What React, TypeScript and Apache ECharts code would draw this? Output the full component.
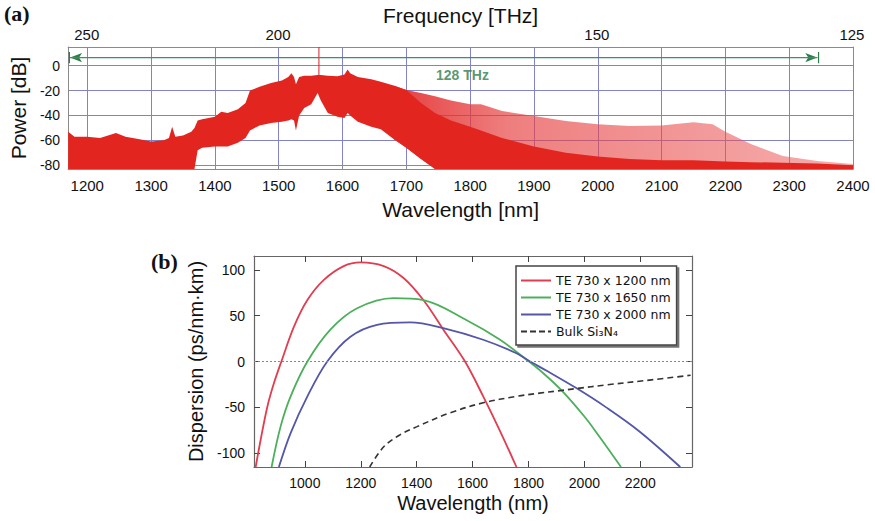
import React, { useEffect, useRef } from "react";
import * as echarts from "echarts";

// ---------- physical constant for the top (frequency) axis ----------
const C_NM_THZ = 299792.458;

// ---------- Panel (a): supercontinuum / comb spectrum ----------
const wavelengthsA = [
  1170, 1180, 1200, 1220, 1245, 1260, 1280, 1300, 1320, 1328,
  1333, 1338, 1350, 1363, 1368, 1373, 1380, 1400, 1410, 1420,
  1436, 1448, 1455, 1470, 1488, 1505, 1515, 1520, 1524, 1527,
  1532, 1540, 1551, 1561, 1566, 1577, 1592, 1603, 1608, 1612,
  1624, 1645, 1660, 1680, 1700, 1723, 1745, 1770, 1800, 1817,
  1850, 1900, 1950, 2000, 2050, 2100, 2150, 2180, 2200, 2240,
  2290, 2344, 2400,
];
// upper envelope of the comb lines (dB)
const upperEnvelope = [
  -53, -57, -57, -58, -54, -57, -59, -61, -60, -58,
  -49, -57, -56, -53, -50, -44, -43, -41, -37, -38,
  -35, -30, -20, -17, -14, -12, -9, -6, -9, -15,
  -9, -8, -8, -7.5, -7.5, -8, -8.5, -7, -3, -6,
  -9, -11, -13, -16, -19.5, -22, -24.5, -28, -31, -31,
  -36.5, -40.5, -44.5, -47, -48.5, -48, -45.5, -47, -53, -63,
  -72.5, -76.5, -79,
];
// top of the dense (solid) part of the spectrum (dB)
const denseTop = [
  -53, -57, -57, -58, -54, -57, -59, -61, -60, -58,
  -49, -57, -56, -53, -50, -44, -43, -41, -37, -38,
  -35, -30, -20, -17, -14, -12, -9, -6, -9, -15,
  -9, -8, -8, -7.5, -7.5, -8, -8.5, -7, -3, -6,
  -9, -11, -13, -16, -19.5, -30, -38, -44, -49, -52,
  -58, -65, -70, -73, -75, -76, -76, -76.5, -77, -77.5,
  -78, -78.5, -80,
];
// lower edge of the dense part (dB)
const lowerEdge = [
  -83, -83, -83, -83, -83, -83, -83, -83, -83, -83,
  -83, -83, -83, -83, -83, -68, -66, -65, -65, -65,
  -62, -58, -52, -48, -46, -45, -44, -43, -44, -52,
  -40, -34, -31, -22, -28, -38, -41, -42, -38, -40,
  -45, -49, -51, -59, -66, -75, -83, -83, -83, -83,
  -83, -83, -83, -83, -83, -83, -83, -83, -83, -83,
  -83, -83, -83,
];
const combOnsetWl = 1680; // comb lines resolved beyond this wavelength
const wlTicksA = [1200, 1300, 1400, 1500, 1600, 1700, 1800, 1900, 2000, 2100, 2200, 2300, 2400];
const powerTicks = [-80, -60, -40, -20, 0];
const freqTicks = [250, 200, 150, 125];
const powerMin = -83;
const powerMax = 15;
const wlMinA = 1170;
const wlMaxA = 2400;
const pumpWavelength = 1563;
const pumpLevels = [15, -7.5];
const spanEnds = [1173, 2344];
const spanLevel = 6.5;
const spanBarLevels = [2, 11];
const spanLabel = "128 THz";
const spanLabelPos = [1788, -7.5];

// ---------- Panel (b): dispersion ----------
const te1200 = [
  [824, -115], [842, -85], [866, -49], [890, -23], [916, 0], [961, 38], [1009, 67],
  [1068, 89], [1139, 104], [1199, 108], [1282, 104], [1353, 91], [1424, 67],
  [1495, 35], [1573, 0], [1638, -38], [1697, -75], [1757, -115],
];
const te1650 = [
  [881, -115], [913, -71], [949, -38], [1009, 0], [1092, 35], [1187, 58], [1317, 69],
  [1424, 67], [1579, 45], [1697, 24], [1793, 2], [1850, -12], [1920, -32],
  [2000, -60], [2054, -82], [2131, -115],
];
const te2000 = [
  [907, -115], [949, -78], [1009, -38], [1080, 0], [1163, 27], [1258, 40], [1377, 42.6],
  [1495, 36.4], [1638, 23.7], [1757, 9], [1800, 1], [1870, -11], [1971, -29],
  [2078, -50], [2196, -76], [2343, -115],
];
const bulkSi3N4 = [
  [1232, -115], [1282, -93], [1340, -80], [1401, -71], [1519, -56], [1638, -45],
  [1757, -38], [1840, -34.5], [1905, -32], [1971, -29.5], [2078, -25.5],
  [2220, -20.7], [2380, -15],
];
const seriesNamesB = ["TE 730 x 1200 nm", "TE 730 x 1650 nm", "TE 730 x 2000 nm", "Bulk Si\u2083N\u2084"];
const wlTicksB = [1000, 1200, 1400, 1600, 1800, 2000, 2200];
const dispTicks = [-100, -50, 0, 50, 100];
const wlMinB = 818;
const wlMaxB = 2385;
const dispMin = -115;
const dispMax = 115;

const SANS = "'Liberation Sans', Arial, Helvetica, sans-serif";
const GRID_BLUE = "#8282c8";
const FRAME = "#8a8a8a";
const SOLID_ICON = "path://M0,0L30,0L30,2L0,2Z";
const DASH_ICON = "path://M0,0L6,0L6,2L0,2Z M9,0L15,0L15,2L9,2Z M18,0L24,0L24,2L18,2Z M27,0L30,0L30,2L27,2Z";

function band(name: string, xs: number[], lo: number[], hi: number[], fill: any, z: number) {
  return {
    type: "custom",
    name,
    xAxisIndex: 0,
    yAxisIndex: 0,
    silent: true,
    clip: true,
    z,
    data: [[xs[0], hi[0]]],
    encode: { x: 0, y: 1 },
    renderItem: (_p: any, api: any) => {
      const pts: number[][] = [];
      for (let i = 0; i < xs.length; i++) pts.push(api.coord([xs[i], hi[i]]));
      for (let i = xs.length - 1; i >= 0; i--) pts.push(api.coord([xs[i], lo[i]]));
      return { type: "polygon", shape: { points: pts }, style: { fill, stroke: null } };
    },
  };
}

const num = (v: number) => String(v);

export default function App() {
  const ref = useRef<HTMLDivElement>(null);

  useEffect(() => {
    if (!ref.current) return;
    const chart = echarts.init(ref.current, undefined, { renderer: "svg" });

    const combIdx = wavelengthsA.map((_w, i) => i).filter((i) => wavelengthsA[i] >= combOnsetWl);
    const combX = combIdx.map((i) => wavelengthsA[i]);
    const combHi = combIdx.map((i) => upperEnvelope[i]);
    const combLo = combIdx.map((i) => lowerEdge[i]);

    const pinkFill = new echarts.graphic.LinearGradient(0, 0, 1, 0, [
      { offset: 0, color: "rgba(226,40,40,0.9)" },
      { offset: 0.25, color: "rgba(230,60,60,0.66)" },
      { offset: 1, color: "rgba(236,90,90,0.5)" },
    ]);

    const freqPositions = freqTicks.map((f) => C_NM_THZ / f);

    const option: any = {
      animation: false,
      backgroundColor: "#ffffff",
      title: [
        {
          text: "(a)", left: 4, top: 2, padding: 0,
          textStyle: { fontFamily: "'Liberation Serif', 'Times New Roman', serif", fontWeight: "bold", fontSize: 22, color: "#111" },
        },
        {
          text: "(b)", left: 151, top: 250, padding: 0,
          textStyle: { fontFamily: "'Liberation Serif', 'Times New Roman', serif", fontWeight: "bold", fontSize: 22, color: "#111" },
        },
      ],
      grid: [
        { left: 67, top: 47, width: 786, height: 122 },
        { left: 254, top: 256, width: 438, height: 211 },
      ],
      legend: {
        data: [
          { name: seriesNamesB[0], icon: SOLID_ICON },
          { name: seriesNamesB[1], icon: SOLID_ICON },
          { name: seriesNamesB[2], icon: SOLID_ICON },
          { name: seriesNamesB[3], icon: DASH_ICON },
        ],
        orient: "vertical",
        left: 516,
        top: 266,
        itemWidth: 30,
        itemHeight: 2,
        itemGap: 2,
        padding: [7, 6, 6, 5],
        backgroundColor: "#fff",
        borderColor: "#444",
        borderWidth: 1.5,
        shadowColor: "rgba(0,0,0,0.55)",
        shadowOffsetX: 2,
        shadowOffsetY: 2,
        shadowBlur: 0,
        textStyle: { fontFamily: "'DejaVu Sans', sans-serif", fontSize: 12.5, color: "#111", lineHeight: 15 },
      },
      xAxis: [
        {
          type: "value", gridIndex: 0, position: "bottom", min: wlMinA, max: wlMaxA,
          name: "Wavelength [nm]", nameLocation: "middle", nameGap: 30,
          nameTextStyle: { fontFamily: SANS, fontSize: 21, color: "#111" },
          axisLine: { show: true, onZero: false, lineStyle: { color: FRAME } },
          axisTick: { show: true, inside: true, length: 3, customValues: wlTicksA, lineStyle: { color: FRAME } },
          axisLabel: { customValues: wlTicksA, formatter: num, fontFamily: SANS, fontSize: 15, color: "#111", margin: 9 },
          splitLine: { show: true, lineStyle: { color: GRID_BLUE, width: 1 } },
        },
        {
          type: "value", gridIndex: 0, position: "top", min: wlMinA, max: wlMaxA,
          name: "Frequency [THz]", nameLocation: "middle", nameGap: 21,
          nameTextStyle: { fontFamily: SANS, fontSize: 21, color: "#111" },
          axisLine: { show: true, onZero: false, lineStyle: { color: FRAME } },
          axisTick: { show: false, customValues: freqPositions },
          axisLabel: {
            customValues: freqPositions, fontFamily: SANS, fontSize: 15, color: "#111", margin: 5,
            formatter: (v: number) => String(Math.round(C_NM_THZ / v)),
          },
          splitLine: { show: false },
        },
        {
          type: "value", gridIndex: 1, position: "bottom", min: wlMinB, max: wlMaxB,
          name: "Wavelength (nm)", nameLocation: "middle", nameGap: 26,
          nameTextStyle: { fontFamily: SANS, fontSize: 20, color: "#111" },
          axisLine: { show: true, onZero: false, lineStyle: { color: "#666", width: 1.2 } },
          axisTick: { show: true, inside: true, length: 6, customValues: wlTicksB, lineStyle: { color: "#444" } },
          axisLabel: { customValues: wlTicksB, formatter: num, fontFamily: SANS, fontSize: 14, color: "#111", margin: 9 },
          splitLine: { show: false },
        },
        {
          type: "value", gridIndex: 1, position: "top", min: wlMinB, max: wlMaxB,
          axisLine: { show: true, onZero: false, lineStyle: { color: "#666", width: 1.2 } },
          axisTick: { show: true, inside: true, length: 6, customValues: wlTicksB, lineStyle: { color: "#444" } },
          axisLabel: { show: false, customValues: wlTicksB },
          splitLine: { show: false },
        },
      ],
      yAxis: [
        {
          type: "value", gridIndex: 0, position: "left", min: powerMin, max: powerMax,
          name: "Power [dB]", nameLocation: "middle", nameGap: 36,
          nameTextStyle: { fontFamily: SANS, fontSize: 21, color: "#111" },
          axisLine: { show: true, onZero: false, lineStyle: { color: FRAME } },
          axisTick: { show: true, inside: true, length: 3, customValues: powerTicks, lineStyle: { color: FRAME } },
          axisLabel: { customValues: powerTicks, formatter: num, fontFamily: SANS, fontSize: 14, color: "#111", margin: 8 },
          splitLine: { show: true, lineStyle: { color: GRID_BLUE, width: 1 } },
        },
        {
          type: "value", gridIndex: 0, position: "right", min: powerMin, max: powerMax,
          axisLine: { show: true, onZero: false, lineStyle: { color: FRAME } },
          axisTick: { show: true, inside: true, length: 3, customValues: powerTicks, lineStyle: { color: FRAME } },
          axisLabel: { show: false, customValues: powerTicks },
          splitLine: { show: false },
        },
        {
          type: "value", gridIndex: 1, position: "left", min: dispMin, max: dispMax,
          name: "Dispersion (ps/nm\u00b7km)", nameLocation: "middle", nameGap: 46,
          nameTextStyle: { fontFamily: SANS, fontSize: 20, color: "#111" },
          axisLine: { show: true, onZero: false, lineStyle: { color: "#666", width: 1.2 } },
          axisTick: { show: true, inside: true, length: 6, customValues: dispTicks, lineStyle: { color: "#444" } },
          axisLabel: { customValues: dispTicks, formatter: num, fontFamily: SANS, fontSize: 14, color: "#111", margin: 9 },
          splitLine: { show: false },
        },
        {
          type: "value", gridIndex: 1, position: "right", min: dispMin, max: dispMax,
          axisLine: { show: true, onZero: false, lineStyle: { color: "#666", width: 1.2 } },
          axisTick: { show: true, inside: true, length: 6, customValues: dispTicks, lineStyle: { color: "#444" } },
          axisLabel: { show: false, customValues: dispTicks },
          splitLine: { show: false },
        },
      ],
      series: [
        band("comb lines", combX, combLo, combHi, pinkFill, 2),
        band("dense spectrum", wavelengthsA, lowerEdge, denseTop, "#e2261f", 3),
        {
          name: "pump", type: "line", xAxisIndex: 0, yAxisIndex: 0, z: 4, silent: true,
          symbol: "none", lineStyle: { color: "#d8232a", width: 1 },
          data: pumpLevels.map((p) => [pumpWavelength, p]),
        },
        {
          name: "span", type: "line", xAxisIndex: 0, yAxisIndex: 0, z: 5, silent: true,
          symbol: "none", lineStyle: { color: "#3f9160", width: 1.2 },
          data: spanEnds.map((w) => [w, spanLevel]),
          markLine: {
            silent: true, symbol: ["arrow", "arrow"], symbolSize: [7, 12],
            label: { show: false },
            lineStyle: { color: "#2f7d4c", width: 1.2, type: "solid" },
            data: [[{ coord: [spanEnds[0], spanLevel] }, { coord: [spanEnds[1], spanLevel] }]],
          },
        },
        {
          name: "span end L", type: "line", xAxisIndex: 0, yAxisIndex: 0, z: 5, silent: true,
          symbol: "none", lineStyle: { color: "#2f7d4c", width: 1.2 },
          data: spanBarLevels.map((l) => [spanEnds[0] - 1, l]),
        },
        {
          name: "span end R", type: "line", xAxisIndex: 0, yAxisIndex: 0, z: 5, silent: true,
          symbol: "none", lineStyle: { color: "#2f7d4c", width: 1.2 },
          data: spanBarLevels.map((l) => [spanEnds[1] + 2, l]),
        },
        {
          name: "span label", type: "scatter", xAxisIndex: 0, yAxisIndex: 0, z: 6, silent: true,
          symbolSize: 0,
          data: [spanLabelPos],
          label: {
            show: true, position: "inside", formatter: spanLabel,
            fontFamily: SANS, fontWeight: "bold", fontSize: 14, color: "#2f7d4c",
          },
        },
        {
          name: seriesNamesB[0], type: "line", xAxisIndex: 2, yAxisIndex: 2, smooth: 0.35,
          symbol: "none", lineStyle: { color: "#e23c4f", width: 1.8 }, itemStyle: { color: "#e23c4f" },
          data: te1200,
          markLine: {
            silent: true, symbol: "none", label: { show: false },
            lineStyle: { color: "#888", width: 1, type: [2, 2] },
            data: [{ yAxis: 0 }],
          },
        },
        {
          name: seriesNamesB[1], type: "line", xAxisIndex: 2, yAxisIndex: 2, smooth: 0.35,
          symbol: "none", lineStyle: { color: "#4caf5a", width: 1.8 }, itemStyle: { color: "#4caf5a" },
          data: te1650,
        },
        {
          name: seriesNamesB[2], type: "line", xAxisIndex: 2, yAxisIndex: 2, smooth: 0.35,
          symbol: "none", lineStyle: { color: "#5456a8", width: 1.8 }, itemStyle: { color: "#5456a8" },
          data: te2000,
        },
        {
          name: seriesNamesB[3], type: "line", xAxisIndex: 2, yAxisIndex: 2, smooth: 0.35,
          symbol: "none", lineStyle: { color: "#333", width: 1.6, type: [6, 4] }, itemStyle: { color: "#333" },
          data: bulkSi3N4,
        },
      ],
    };

    chart.setOption(option);
    return () => chart.dispose();
  }, []);

  return (
    <div
      ref={ref}
      style={{ position: "absolute", left: 0, top: 0, width: 875, height: 521, background: "#fff" }}
    />
  );
}
